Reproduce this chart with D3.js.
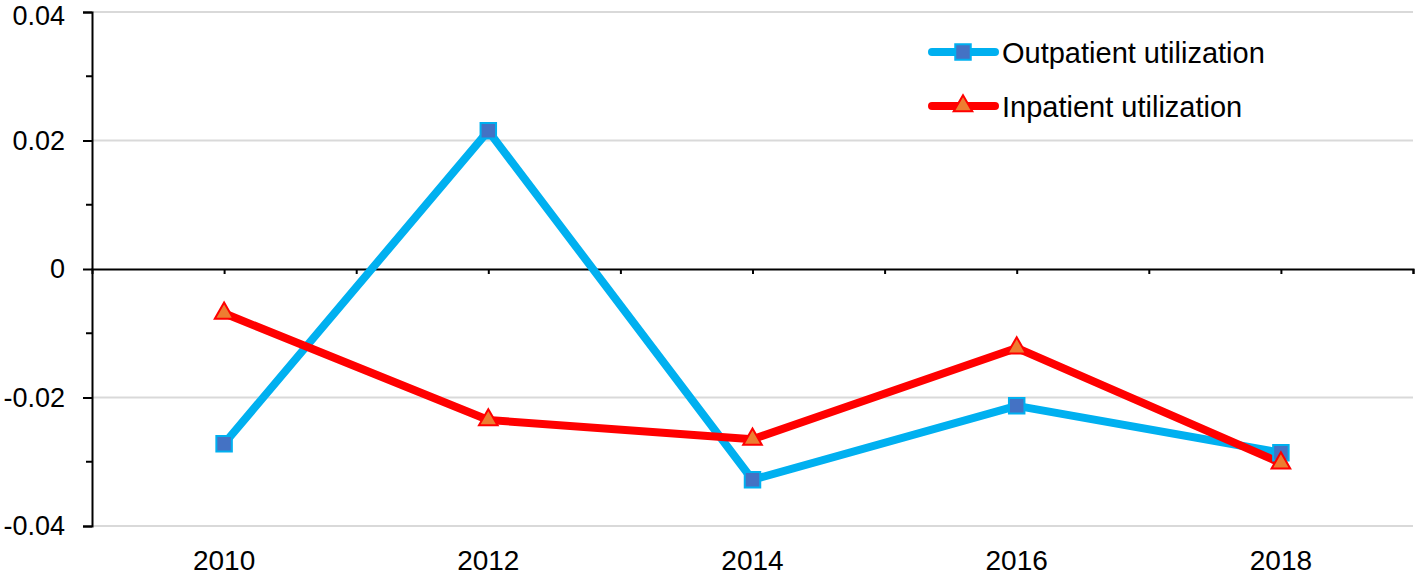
<!DOCTYPE html>
<html><head><meta charset="utf-8">
<script src="https://cdn.jsdelivr.net/npm/d3@7"></script>
<style>body{margin:0;background:#fff}svg{display:block}</style>
</head><body><svg id="c" width="1416" height="573"></svg>
<script>
const years = [2010, 2012, 2014, 2016, 2018];
const outpatient = [-0.0272, 0.0215, -0.0328, -0.0213, -0.0286];
const inpatient = [-0.0069, -0.0235, -0.0265, -0.0123, -0.0302];
const yTicks = [-0.04, -0.02, 0, 0.02, 0.04];
const xLabels = ["2010", "2012", "2014", "2016", "2018"];
const seriesNames = ["Outpatient utilization", "Inpatient utilization"];

const svg = d3.select("#c");
const font = "Liberation Sans, Arial, sans-serif";
const x = d3.scaleLinear().domain([2009, 2019]).range([92, 1413]);
const y = d3.scaleLinear().domain([-0.04, 0.04]).range([526, 12]);

// gridlines
svg.append("g").selectAll("line").data(yTicks.filter(d => d !== 0)).join("line")
  .attr("x1", x(2009)).attr("x2", x(2019)).attr("y1", d => y(d)).attr("y2", d => y(d))
  .attr("stroke", "#d9d9d9").attr("stroke-width", 2);

// y axis
const yAxis = d3.axisLeft(y).tickValues(yTicks).tickSize(9).tickPadding(18)
  .tickFormat(d => d === 0 ? "0" : d3.format(".2f")(d).replace("\u2212", "-"));
const gy = svg.append("g").attr("transform", `translate(${x(2009)},0)`).call(yAxis);
gy.select(".domain").attr("stroke", "#000").attr("stroke-width", 2);
gy.selectAll(".tick line").attr("stroke", "#000").attr("stroke-width", 2);
gy.selectAll("text").attr("font-family", font).attr("font-size", 27).attr("fill", "#000");
gy.selectAll(".tick").filter(d => d === 0.04).select("text").attr("dy", "0.45em");
// minor ticks
svg.append("g").selectAll("line").data(d3.range(-0.03, 0.04, 0.02)).join("line")
  .attr("x1", x(2009) - 6).attr("x2", x(2009)).attr("y1", d => y(d)).attr("y2", d => y(d))
  .attr("stroke", "#000").attr("stroke-width", 2);

// x axis at zero
const xAxis = d3.axisBottom(x).tickValues(d3.range(2010, 2020)).tickSize(5).tickFormat("");
const gx = svg.append("g").attr("transform", `translate(0,${y(0)})`).call(xAxis);
gx.select(".domain").attr("stroke", "#000").attr("stroke-width", 2);
gx.selectAll(".tick line").attr("stroke", "#000").attr("stroke-width", 2);

// x labels at bottom
svg.append("g").selectAll("text").data(years).join("text")
  .attr("x", d => x(d)).attr("y", 570).attr("text-anchor", "middle")
  .attr("font-family", font).attr("font-size", 28).attr("fill", "#000")
  .text((d, i) => xLabels[i]);

const line = d3.line().x(d => x(d[0])).y(d => y(d[1]));
const outData = years.map((d, i) => [d, outpatient[i]]);
const inData = years.map((d, i) => [d, inpatient[i]]);

svg.append("path").attr("d", line(outData)).attr("fill", "none")
  .attr("stroke", "#00B0F0").attr("stroke-width", 8).attr("stroke-linejoin", "round");
svg.append("path").attr("d", line(inData)).attr("fill", "none")
  .attr("stroke", "#FF0000").attr("stroke-width", 8).attr("stroke-linejoin", "round");

const sq = d3.symbol().type(d3.symbolSquare).size(240);
const tri = d3.symbol().type(d3.symbolTriangle).size(150);

svg.append("g").selectAll("path").data(outData).join("path")
  .attr("d", sq).attr("transform", d => `translate(${x(d[0])},${y(d[1])})`)
  .attr("fill", "#4472C4").attr("stroke", "#00B0F0").attr("stroke-width", 2);
svg.append("g").selectAll("path").data(inData).join("path")
  .attr("d", tri).attr("transform", d => `translate(${x(d[0])},${y(d[1])})`)
  .attr("fill", "#ED7D31").attr("stroke", "#FF0000").attr("stroke-width", 2);

// legend
const leg = [{c: "#00B0F0", s: sq, f: "#4472C4", yy: 52}, {c: "#FF0000", s: tri, f: "#ED7D31", yy: 106}];
leg.forEach((l, i) => {
  const g = svg.append("g");
  g.append("line").attr("x1", 932).attr("x2", 995).attr("y1", l.yy).attr("y2", l.yy)
    .attr("stroke", l.c).attr("stroke-width", 8).attr("stroke-linecap", "round");
  g.append("path").attr("d", l.s).attr("transform", `translate(963,${l.yy})`)
    .attr("fill", l.f).attr("stroke", l.c).attr("stroke-width", 2);
  g.append("text").attr("x", 1002).attr("y", l.yy + 11).attr("font-family", font)
    .attr("font-size", 29).attr("fill", "#000").text(seriesNames[i]);
});
</script></body></html>
